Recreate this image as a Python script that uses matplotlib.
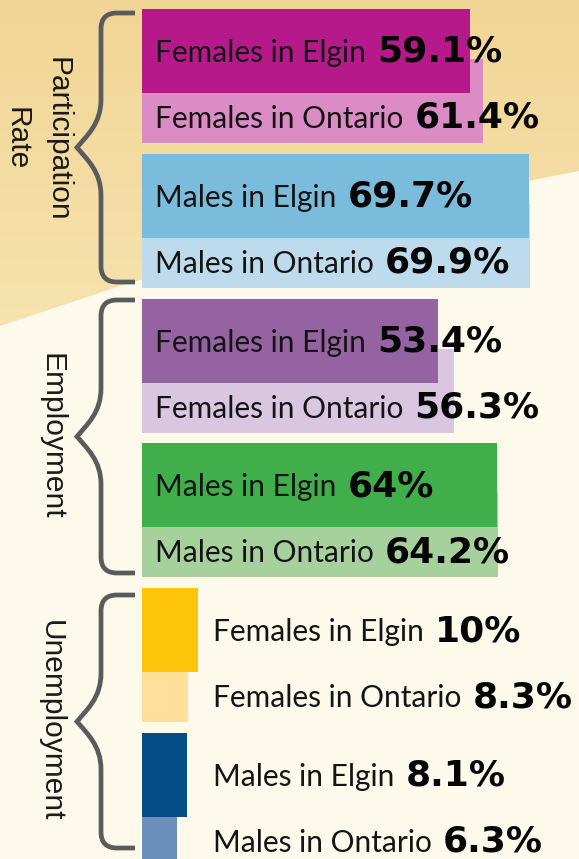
import matplotlib
matplotlib.use("Agg")
import matplotlib.pyplot as plt
import numpy as np
from matplotlib.path import Path
from matplotlib.patches import PathPatch, Polygon
from matplotlib.transforms import offset_copy

# ---------------- data ----------------
groups = ["Participation\nRate", "Employment", "Unemployment"]
pairs = ["Females", "Males"]
regions = ["Elgin", "Ontario"]
participation = [59.1, 61.4, 69.7, 69.9]   # F Elgin, F Ontario, M Elgin, M Ontario
employment = [53.4, 56.3, 64.0, 64.2]
unemployment = [10.0, 8.3, 8.1, 6.3]
value_text = [["59.1%", "61.4%", "69.7%", "69.9%"],
              ["53.4%", "56.3%", "64%", "64.2%"],
              ["10%", "8.3%", "8.1%", "6.3%"]]
series = [participation, employment, unemployment]

colors = [["#b5198a", "#db8cc5", "#7bbcdd", "#bddbed"],
          ["#9563a1", "#d9c7e1", "#40ae4a", "#a6d19d"],
          ["#fec50b", "#fee098", "#034e87", "#6b8fbc"]]

# ---------------- layout ----------------
W, H = 579, 859
X0 = 142            # px where bars start
PX_PER_PCT = 5.55
ROW_TOP0 = 9
ROW_STEP = 144.8
BAR_H = 84
ONT_SHIFT = 50
LABEL_DX = [13, 13, 71]
VALUE_GAP = 11
BRACE_SPANS = [(13, 282), (300, 573), (595, 848)]
GROUP_LABEL_POS = [(37, 139), (51, 436), (51, 721)]

CREAM = "#fdf9eb"
BRACE = "#5a5b5d"

fig = plt.figure(figsize=(W / 100, H / 100), dpi=100, facecolor=CREAM)

# background / decoration axes in pixel coordinates
bg = fig.add_axes([0, 0, 1, 1])
bg.axis("off")
bg.set_facecolor(CREAM)

band = [(0, 0), (W, 0), (W, 171), (528, 181), (420, 206), (300, 235),
        (200, 262), (120, 286), (0, 326)]
poly = Polygon(band, closed=True, facecolor="none", edgecolor="none")
bg.add_patch(poly)
c_top = np.array([0xf1, 0xd5, 0x96]) / 255
c_bot = np.array([0xf6, 0xe3, 0xae]) / 255
t = np.linspace(0, 1, 256)[:, None]
grad = (c_top[None, :] * (1 - t) + c_bot[None, :] * t)[:, None, :]
grad = np.repeat(grad, 2, axis=1)
im = bg.imshow(grad, extent=[0, W, 330, 0], aspect="auto", zorder=0,
               interpolation="bilinear")
im.set_clip_path(poly)
bg.set_xlim(0, W)
bg.set_ylim(H, 0)

# bar axes: x in percent, y in pixel rows
ax = fig.add_axes([0, 0, 1, 1])
ax.set_xlim(-X0 / PX_PER_PCT, (W - X0) / PX_PER_PCT)
ax.set_ylim(H, 0)
ax.axis("off")
ax.patch.set_alpha(0)

# foreground axes for text and braces (pixel coordinates)
fg = fig.add_axes([0, 0, 1, 1])
fg.set_xlim(0, W)
fg.set_ylim(H, 0)
fg.axis("off")
fg.patch.set_alpha(0)

label_font = dict(family=["Lato", "DejaVu Sans"], fontsize=21.5, color="#141414")
value_font = dict(family=["DejaVu Sans"], fontsize=26, fontweight="bold",
                  color="#050505")

renderer = fig.canvas.get_renderer()

for g, vals in enumerate(series):
    for p in range(2):
        top = ROW_TOP0 + (2 * g + p) * ROW_STEP
        i_elg, i_ont = 2 * p, 2 * p + 1
        # Ontario bar (behind)
        ax.barh(top + ONT_SHIFT + BAR_H / 2, vals[i_ont], height=BAR_H, left=0,
                color=colors[g][i_ont], zorder=1, linewidth=0)
        # Elgin bar (front)
        ax.barh(top + BAR_H / 2, vals[i_elg], height=BAR_H, left=0,
                color=colors[g][i_elg], zorder=2, linewidth=0)
        for idx, base in ((i_elg, top + 53), (i_ont, top + 119)):
            name = f"{pairs[p]} in {regions[idx % 2]}"
            tr = offset_copy(ax.transData, fig=fig, x=LABEL_DX[g], y=0, units="dots")
            txt = fg.text(0, base, name, transform=tr, ha="left", va="baseline",
                          zorder=5, **label_font)
            bb = txt.get_window_extent(renderer)
            fg.text(bb.x1 + VALUE_GAP, base, value_text[g][idx], ha="left",
                    va="baseline", zorder=6, **value_font)

# braces
def brace_path(yt, yb, xv=101, xt=77, xe=135, r=16):
    ym = (yt + yb) / 2
    verts = [(xe, yt), (xv + r, yt), (xv, yt), (xv, yt + r),
             (xv, ym - 48),
             (xv, ym - 24), (xt + 10, ym - 12), (xt, ym),
             (xt + 10, ym + 12), (xv, ym + 24), (xv, ym + 48),
             (xv, yb - r), (xv, yb), (xv + r, yb), (xe, yb)]
    codes = [Path.MOVETO, Path.LINETO, Path.CURVE3, Path.CURVE3,
             Path.LINETO,
             Path.CURVE4, Path.CURVE4, Path.CURVE4,
             Path.CURVE4, Path.CURVE4, Path.CURVE4,
             Path.LINETO, Path.CURVE3, Path.CURVE3, Path.LINETO]
    return Path(verts, codes)

for (yt, yb) in BRACE_SPANS:
    fg.add_patch(PathPatch(brace_path(yt, yb), facecolor="none", edgecolor=BRACE,
                           linewidth=3.4, capstyle="butt", joinstyle="miter", zorder=3))

for (x, y), name in zip(GROUP_LABEL_POS, groups):
    fg.text(x, y, name, rotation=-90, ha="center", va="center", multialignment="center",
            linespacing=1.6, family=["Liberation Sans", "DejaVu Sans"], fontsize=21.5,
            color="#1a1a1a", zorder=4)

fig.savefig("out.png", dpi=100, facecolor=CREAM)
